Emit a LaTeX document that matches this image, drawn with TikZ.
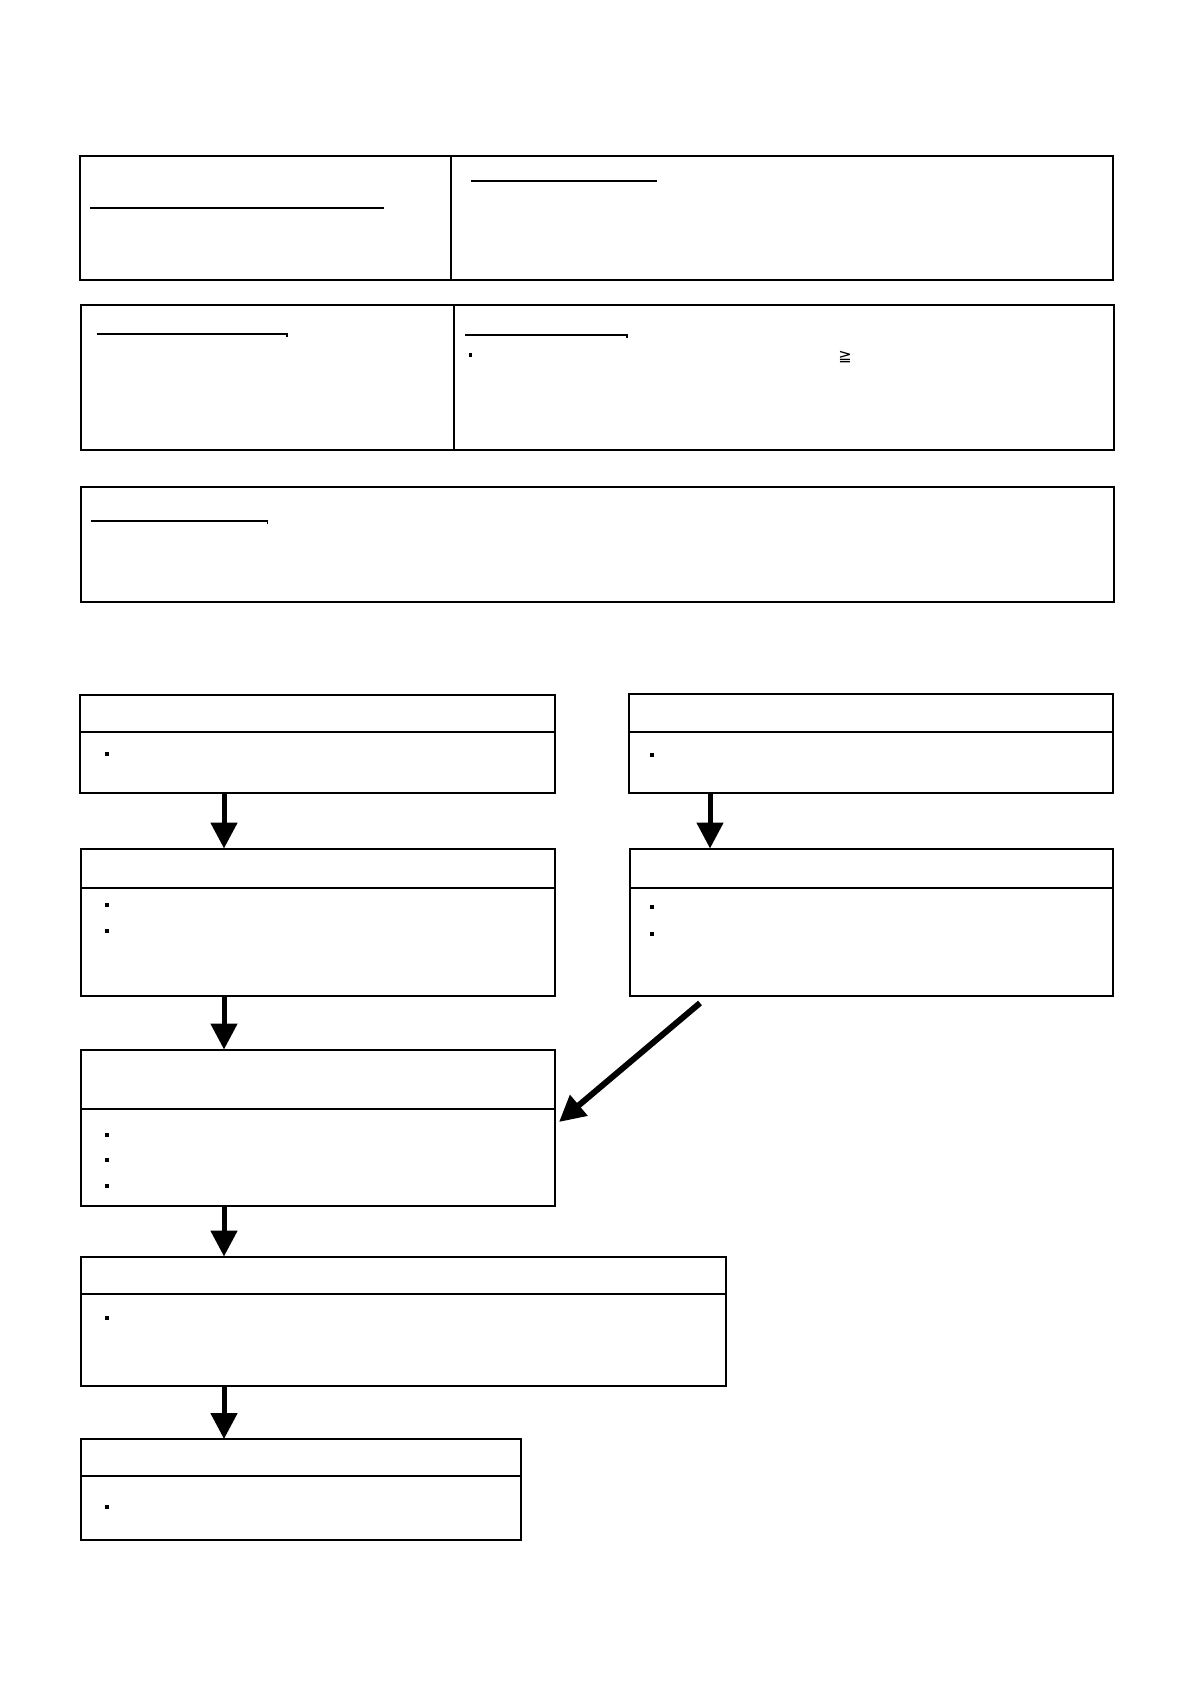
\documentclass[tikz,border=0pt]{standalone}
\usepackage{fontspec}
\newfontfamily\dejavu{DejaVu Sans}
\usetikzlibrary{
    positioning,
    arrows.meta,
    calc
}
\tikzset{
    cell/.style={
        rectangle, draw, line width=1pt,
        anchor=north west, inner sep=0pt, outer sep=0pt
    },
    headbox/.style={
        cell, minimum height=18.5pt
    },
    bigarrow/.style={
        -{Triangle[length=13pt, width=13pt]}, line width=2.5pt
    },
    ruleline/.style={
        line width=0.8pt
    },
    bulletdot/.style={
        rectangle, fill, inner sep=0pt, minimum size=1.8pt
    }
}

\begin{document}
\begin{tikzpicture}[x=0.5pt, y=-0.5pt]
	\useasboundingbox (0,0) rectangle (1192,1684);

	% TOP TABLES
	\node (topL) [cell, minimum width=185.7pt, minimum height=61.75pt] at (80,156.5) {};
	\node (topR) [cell, minimum width=330.8pt, minimum height=61.75pt] at (451.4,156.5) {};
	\node (midL) [cell, minimum width=186.55pt, minimum height=72.5pt] at (80.5,305) {};
	\node (midR) [cell, minimum width=330.2pt, minimum height=72.5pt] at (453.6,305) {};
	\node (notes) [cell, minimum width=516.75pt, minimum height=57.5pt] at (80.5,487) {};

	% UNDERLINES
	\draw[ruleline] (90,208) -- (384,208);
	\draw[ruleline] (471,181) -- (657,181);
	\draw[ruleline] (96.5,334) -- (287,334) -- ++(0,3);
	\draw[ruleline] (465,335) -- (627,335) -- ++(0,3);
	\draw[ruleline] (91,521) -- (267.5,521) -- ++(0,3);
	\node (midRdot) [bulletdot] at (470.5,355) {};
	\node (geq) [font=\dejavu\fontsize{8}{9}\selectfont, inner sep=0pt] at (845,357) {≧};

	% FLOW BOXES
	\node (Ahead) [headbox, minimum width=237.5pt] at (80,695) {};
	\node (Abody) [cell, below=0pt of Ahead.south west, anchor=north west, minimum width=237.5pt, minimum height=30.25pt] {};
	\node (Bhead) [headbox, minimum width=242.25pt, minimum height=19pt] at (628.5,694) {};
	\node (Bbody) [cell, below=0pt of Bhead.south west, anchor=north west, minimum width=242.25pt, minimum height=30.25pt] {};
	\node (Chead) [headbox, minimum width=237.25pt, minimum height=19.5pt] at (80.5,848.5) {};
	\node (Cbody) [cell, below=0pt of Chead.south west, anchor=north west, minimum width=237.25pt, minimum height=54.25pt] {};
	\node (Dhead) [headbox, minimum width=241.5pt, minimum height=19.5pt] at (630,848.5) {};
	\node (Dbody) [cell, below=0pt of Dhead.south west, anchor=north west, minimum width=241.5pt, minimum height=54.25pt] {};
	\node (Ehead) [headbox, minimum width=237.25pt, minimum height=29.75pt] at (80.5,1049.5) {};
	\node (Ebody) [cell, below=0pt of Ehead.south west, anchor=north west, minimum width=237.25pt, minimum height=48.5pt] {};
	\node (Fhead) [headbox, minimum width=322.75pt] at (80.5,1256.5) {};
	\node (Fbody) [cell, below=0pt of Fhead.south west, anchor=north west, minimum width=322.75pt, minimum height=46.25pt] {};
	\node (Ghead) [headbox, minimum width=220pt] at (80.5,1439) {};
	\node (Gbody) [cell, below=0pt of Ghead.south west, anchor=north west, minimum width=220pt, minimum height=32pt] {};

	% BULLETS
	\node (A1) [bulletdot] at (107,754) {};
	\node (B1) [bulletdot] at (652,755) {};
	\node (C1) [bulletdot] at (107,905) {};
	\node (C2) [bulletdot] at (107,931) {};
	\node (D1) [bulletdot] at (652,907) {};
	\node (D2) [bulletdot] at (652,934) {};
	\foreach \y [count=\i] in {1135,1160,1186}
		\node (E\i) [bulletdot] at (107,\y) {};
	\node (F1) [bulletdot] at (107,1318) {};
	\node (G1) [bulletdot] at (107,1507) {};

	% ARROWS
	\draw[bigarrow] ([xshift=72pt]Abody.south west) -- ([xshift=71.75pt]Chead.north west);
	\draw[bigarrow] ([xshift=40.75pt]Bbody.south west) -- ([xshift=40pt]Dhead.north west);
	\draw[bigarrow] ([xshift=71.75pt]Cbody.south west) -- ([xshift=71.75pt]Ehead.north west);
	\draw[bigarrow] ([xshift=71.75pt]Ebody.south west) -- ([xshift=71.75pt]Fhead.north west);
	\draw[bigarrow] ([xshift=71.75pt]Fbody.south west) -- ([xshift=71.75pt]Ghead.north west);
	\coordinate (diagfrom) at (700,1003);
	\coordinate (diagto) at (559,1122);
	\draw[bigarrow, line width=3pt] (diagfrom) -- (diagto);

\end{tikzpicture}
\end{document}
